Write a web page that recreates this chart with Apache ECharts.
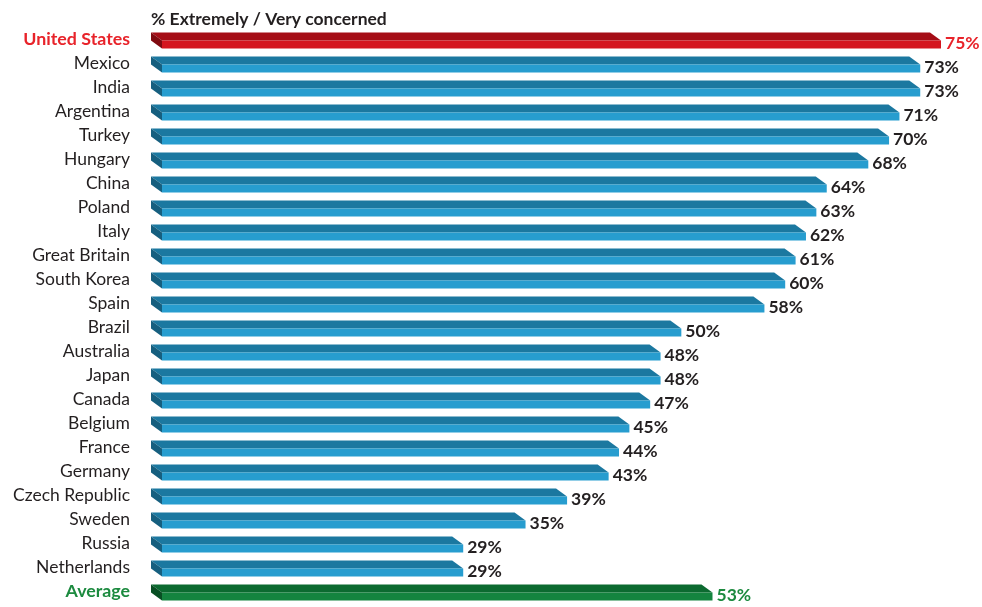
<!DOCTYPE html>
<html><head><meta charset="utf-8">
<script src="https://cdn.jsdelivr.net/npm/echarts@6/dist/echarts.min.js"></script>
<style>html,body{margin:0;padding:0;background:#fff}#c{width:982px;height:607px}</style>
</head><body><div id="c"></div>
<script>
const titleText = '% Extremely / Very concerned';
const categories = ['United States','Mexico','India','Argentina','Turkey','Hungary','China','Poland','Italy','Great Britain','South Korea','Spain','Brazil','Australia','Japan','Canada','Belgium','France','Germany','Czech Republic','Sweden','Russia','Netherlands','Average'];
const values = [75,73,73,71,70,68,64,63,62,61,60,58,50,48,48,47,45,44,43,39,35,29,29,53];

const FONT = 'Lato, "Open Sans", sans-serif';
const palettes = {
  red:   {top:'#a50d16', front:'#d4161f', side:'#800a10', label:'#e8232a'},
  blue:  {top:'#1b78a0', front:'#279dcf', side:'#165f7f', label:'#231f20'},
  green: {top:'#0c6a30', front:'#14843f', side:'#084f23', label:'#1c8a3f'}
};
function pal(i){ return i===0 ? palettes.red : (i===categories.length-1 ? palettes.green : palettes.blue); }

const chart = echarts.init(document.getElementById('c'));
chart.setOption({
  animation:false,
  title:{text:titleText,left:146,top:5,textStyle:{fontFamily:FONT,fontSize:17.5,fontWeight:'bold',color:'#231f20'}},
  grid:{left:162,right:41,top:28.5,bottom:2.5,containLabel:false},
  xAxis:{type:'value',min:0,max:75,show:false},
  yAxis:{type:'category',data:categories,inverse:true,
    axisLine:{show:false},axisTick:{show:false},splitLine:{show:false},
    axisLabel:{margin:32,fontFamily:FONT,fontSize:17.5,color:'#231f20',padding:[0,0,2,0],
      formatter:function(v,i){ if(i===0) return '{r|'+v+'}'; if(i===categories.length-1) return '{g|'+v+'}'; return v; },
      rich:{r:{color:'#e8232a',fontWeight:'bold',fontFamily:FONT,fontSize:17.8},g:{color:'#1c8a3f',fontWeight:'bold',fontFamily:FONT,fontSize:17.8}}
    }},
  series:[{
    type:'custom',
    clip:false,
    encode:{x:0,y:1},
    data: values.map((v,i)=>[v,i]),
    renderItem:function(params,api){
      const v=api.value(0), i=api.value(1);
      const p0=api.coord([0,i]), p1=api.coord([v,i]);
      const x0=p0[0], x1=p1[0], yc=p0[1];
      const dx=11, dy=8, h=8;
      const c=pal(i);
      return {type:'group',children:[
        {type:'polygon',shape:{points:[[x0-dx,yc-dy],[x1-dx,yc-dy],[x1,yc],[x0,yc]]},style:{fill:c.top}},
        {type:'polygon',shape:{points:[[x0-dx,yc-dy],[x0,yc],[x0,yc+h],[x0-dx,yc-dy+h]]},style:{fill:c.side}},
        {type:'rect',shape:{x:x0,y:yc,width:x1-x0,height:h},style:{fill:c.front}},
        {type:'text',x:x1+4,y:yc+2.5,style:{text:v+'%',fill:c.label,font:'bold 17.5px '+FONT,textVerticalAlign:'middle',verticalAlign:'middle'}}
      ]};
    }
  }]
});
</script></body></html>
